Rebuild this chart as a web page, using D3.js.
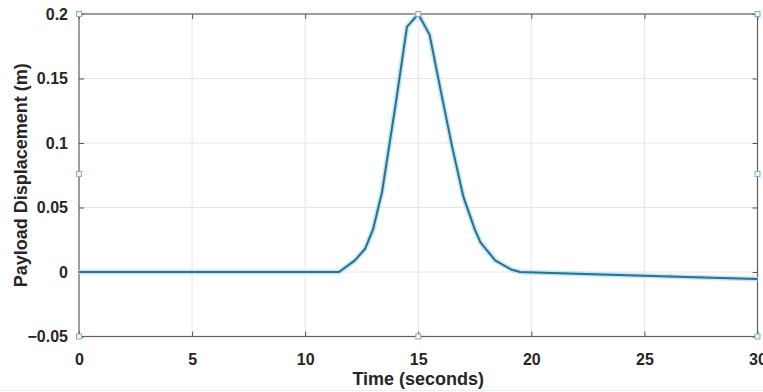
<!DOCTYPE html>
<html>
<head>
<meta charset="utf-8">
<script src="https://cdn.jsdelivr.net/npm/d3@7"></script>
<style>
  html, body { margin: 0; padding: 0; background: #ffffff; }
  svg { display: block; }
  text { font-family: "Liberation Sans", Arial, Helvetica, sans-serif; font-weight: bold; fill: #262626; }
</style>
</head>
<body>
<div id="chart"></div>
<script>
// Payload displacement response over time
const timeS = [0, 11.5, 12.2, 12.65, 13.0, 13.4, 14.0, 14.5, 15.0, 15.5, 16.0, 16.5, 17.0, 17.5, 17.75, 18.4, 19.1, 19.5, 22, 25, 28, 30];
const displacement = [0, 0, 0.009, 0.018, 0.033, 0.062, 0.13, 0.19, 0.2, 0.184, 0.14, 0.097, 0.058, 0.033, 0.023, 0.009, 0.002, 0, -0.0013, -0.003, -0.0045, -0.0055];

// Axis ticks
const xTicks = [0, 5, 10, 15, 20, 25, 30];
const yTicks = [-0.05, 0, 0.05, 0.1, 0.15, 0.2];

// Small square handles on the axes box
const handleT = [0, 30, 0, 30, 15, 15, 0, 30];
const handleY = [0.2, 0.2, -0.05, -0.05, 0.2, -0.05, 0.076, 0.076];

const W = 763, H = 392;
const m = { left: 79, right: 5.5, top: 14, bottom: 55.5 };

const svg = d3.select("#chart").append("svg").attr("width", W).attr("height", H);

const x = d3.scaleLinear().domain([0, 30]).range([m.left, W - m.right]);
const y = d3.scaleLinear().domain([-0.05, 0.2]).range([H - m.bottom, m.top]);

const x0 = x.range()[0], x1 = x.range()[1];
const y0 = y.range()[0], y1 = y.range()[1];

// grid
const grid = svg.append("g");
grid.selectAll("line.gx").data(xTicks.slice(1, -1)).join("line")
  .attr("x1", d => x(d)).attr("x2", d => x(d)).attr("y1", y1).attr("y2", y0)
  .attr("stroke", "#e6e6e6").attr("stroke-width", 1);
grid.selectAll("line.gy").data(yTicks.slice(1, -1)).join("line")
  .attr("x1", x0).attr("x2", x1).attr("y1", d => y(d)).attr("y2", d => y(d))
  .attr("stroke", "#e6e6e6").attr("stroke-width", 1);

// axes (ticks pointing inward)
const fmtY = d => d === 0 ? "0" : d3.format("")(+d.toFixed(2));
const axisStyle = g => {
  g.select(".domain").remove();
  g.selectAll(".tick line").attr("stroke", "#555");
  g.selectAll(".tick text").style("font-size", "16px").attr("fill", "#262626");
};
svg.append("g").attr("transform", `translate(0,${y0})`)
  .call(d3.axisBottom(x).tickValues(xTicks).tickSizeInner(-5).tickSizeOuter(0).tickPadding(17))
  .call(axisStyle);
svg.append("g").attr("transform", `translate(0,${y1})`)
  .call(d3.axisTop(x).tickValues(xTicks).tickSizeInner(-5).tickSizeOuter(0).tickFormat(""))
  .call(axisStyle);
svg.append("g").attr("transform", `translate(${x0},0)`)
  .call(d3.axisLeft(y).tickValues(yTicks).tickSizeInner(-5).tickSizeOuter(0).tickPadding(11).tickFormat(fmtY))
  .call(axisStyle);
svg.append("g").attr("transform", `translate(${x1},0)`)
  .call(d3.axisRight(y).tickValues(yTicks).tickSizeInner(-5).tickSizeOuter(0).tickFormat(""))
  .call(axisStyle);

// box
svg.append("rect").attr("x", x0).attr("y", y1).attr("width", x1 - x0).attr("height", y0 - y1)
  .attr("fill", "none").attr("stroke", "#5e5e5e").attr("stroke-width", 1.2);

// response line
const pts = timeS.map((t, i) => [t, displacement[i]]);
const line = d3.line().x(d => x(d[0])).y(d => y(d[1]));
svg.append("path").datum(pts).attr("d", line)
  .attr("fill", "none").attr("stroke", "#bfe7f3").attr("stroke-width", 5).attr("stroke-linejoin", "round");
svg.append("path").datum(pts).attr("d", line)
  .attr("fill", "none").attr("stroke", "#2c6f8e").attr("stroke-width", 2).attr("stroke-linejoin", "round");

// handles
svg.selectAll("rect.handle").data(handleT.map((t, i) => [t, handleY[i]])).join("rect")
  .attr("class", "handle")
  .attr("x", d => x(d[0]) - 2.5).attr("y", d => y(d[1]) - 2.5)
  .attr("width", 5).attr("height", 5)
  .attr("fill", "#eef6f9").attr("stroke", "#7fb2c6").attr("stroke-width", 1);

// axis labels
svg.append("text").attr("x", (x0 + x1) / 2).attr("y", 385)
  .attr("text-anchor", "middle").style("font-size", "18px").text("Time (seconds)");
svg.append("text").attr("transform", `translate(27,${(y0 + y1) / 2}) rotate(-90)`)
  .attr("text-anchor", "middle").style("font-size", "18px").text("Payload Displacement (m)");

// faint bottom border
svg.append("line").attr("x1", 0).attr("x2", W).attr("y1", H - 1.5).attr("y2", H - 1.5)
  .attr("stroke", "#ececec").attr("stroke-width", 1);
</script>
</body>
</html>
